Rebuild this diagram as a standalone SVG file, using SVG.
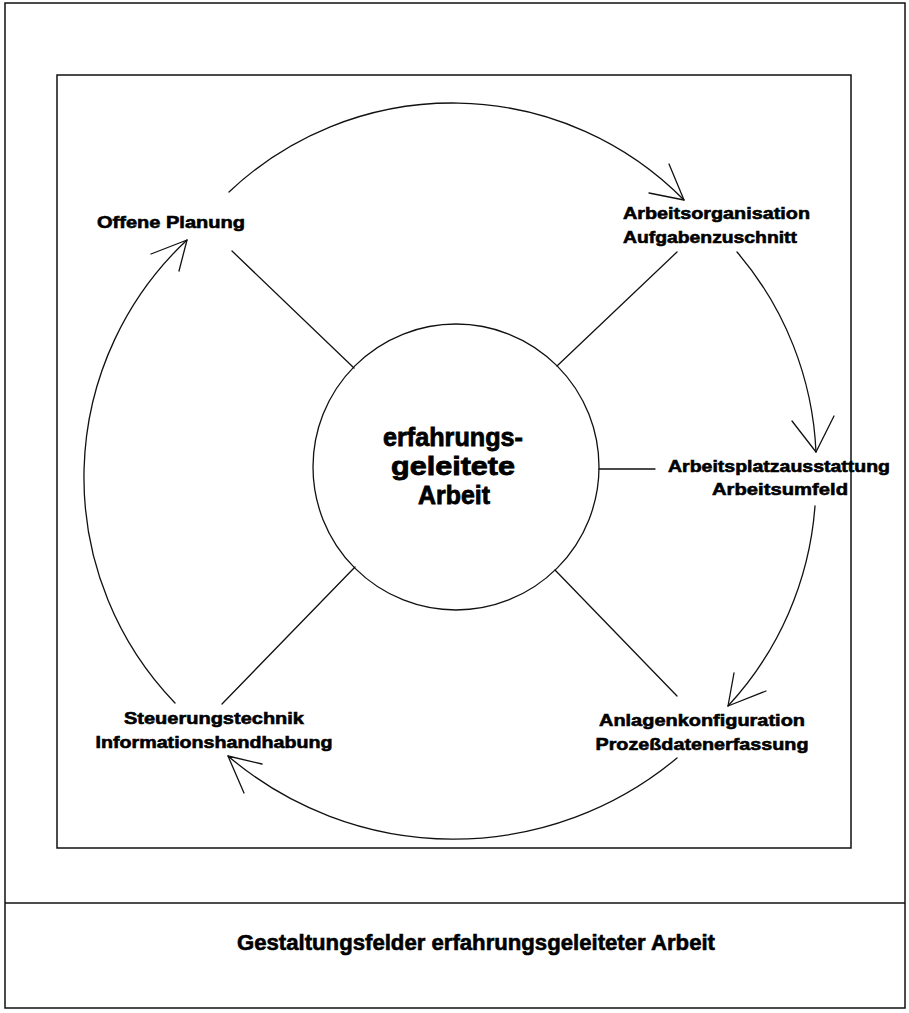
<svg xmlns="http://www.w3.org/2000/svg" width="909" height="1013" viewBox="0 0 909 1013">
  <style>
    .frame { fill: none; stroke: #111; stroke-width: 1.5; }
    .line { fill: none; stroke: #111; stroke-width: 1.3; stroke-linecap: round; stroke-linejoin: round; }
    .lbl { font-family: "Liberation Sans", Arial, Helvetica, sans-serif; font-weight: bold; font-size: 17px; fill: #000; stroke: #000; stroke-width: 0.6; }
    .ctr { font-family: "Liberation Sans", Arial, Helvetica, sans-serif; font-weight: bold; font-size: 26px; fill: #000; stroke: #000; stroke-width: 0.8; text-anchor: middle; }
    .title { font-family: "Liberation Sans", Arial, Helvetica, sans-serif; font-weight: bold; font-size: 22px; fill: #000; stroke: #000; stroke-width: 0.6; text-anchor: middle; }
  </style>
  <rect x="0" y="0" width="909" height="1013" fill="#fff"/>
  <g id="frame">
    <rect class="frame" x="5" y="3" width="900" height="1005"/>
    <line class="frame" x1="5" y1="903" x2="905" y2="903"/>
    <rect class="frame" x="57" y="75" width="794" height="773"/>
  </g>
  <g id="connectors">
    <!-- spokes -->
    <line class="line" x1="232" y1="251" x2="354" y2="368"/>
    <line class="line" x1="677" y1="252" x2="557" y2="366"/>
    <line class="line" x1="599" y1="469" x2="655" y2="469"/>
    <line class="line" x1="555" y1="570" x2="677" y2="696"/>
    <line class="line" x1="355" y1="567" x2="222" y2="704"/>
    <!-- cycle arcs -->
    <path class="line" d="M229,192 A325,325 0 0,1 684,200"/>
    <polyline class="line" points="669,164 684,200 649,193"/>
    <path class="line" d="M737,252 A330,330 0 0,1 816,452"/>
    <polyline class="line" points="792,421 816,452 834,416"/>
    <path class="line" d="M815,506 A330,330 0 0,1 728,706"/>
    <polyline class="line" points="734,673 728,706 766,691"/>
    <path class="line" d="M677,758 A348,348 0 0,1 228,756"/>
    <polyline class="line" points="262,764 228,756 244,793"/>
    <path class="line" d="M175,703 A325,325 0 0,1 187,240"/>
    <polyline class="line" points="151,254 187,240 179,271"/>
  </g>
  <g id="center">
    <circle class="line" cx="456" cy="467" r="143"/>
    <text class="ctr" x="453" y="446" textLength="140" lengthAdjust="spacingAndGlyphs">erfahrungs-</text>
    <text class="ctr" x="453" y="475" textLength="124" lengthAdjust="spacingAndGlyphs">geleitete</text>
    <text class="ctr" x="454" y="504" textLength="72" lengthAdjust="spacingAndGlyphs">Arbeit</text>
  </g>
  <g id="offene-planung">
    <text class="lbl" x="97" y="228" textLength="148" lengthAdjust="spacingAndGlyphs">Offene Planung</text>
  </g>
  <g id="arbeitsorganisation">
    <text class="lbl" x="623" y="219" textLength="187" lengthAdjust="spacingAndGlyphs">Arbeitsorganisation</text>
    <text class="lbl" x="623" y="243" textLength="174" lengthAdjust="spacingAndGlyphs">Aufgabenzuschnitt</text>
  </g>
  <g id="arbeitsplatz">
    <text class="lbl" x="779" y="472" text-anchor="middle" textLength="222" lengthAdjust="spacingAndGlyphs">Arbeitsplatzausstattung</text>
    <text class="lbl" x="780" y="495" text-anchor="middle" textLength="136" lengthAdjust="spacingAndGlyphs">Arbeitsumfeld</text>
  </g>
  <g id="anlagen">
    <text class="lbl" x="702" y="726" text-anchor="middle" textLength="206" lengthAdjust="spacingAndGlyphs">Anlagenkonfiguration</text>
    <text class="lbl" x="702" y="750" text-anchor="middle" textLength="213" lengthAdjust="spacingAndGlyphs">Prozeßdatenerfassung</text>
  </g>
  <g id="steuerung">
    <text class="lbl" x="214" y="724" text-anchor="middle" textLength="180" lengthAdjust="spacingAndGlyphs">Steuerungstechnik</text>
    <text class="lbl" x="214" y="748" text-anchor="middle" textLength="237" lengthAdjust="spacingAndGlyphs">Informationshandhabung</text>
  </g>
  <g id="title">
    <text class="title" x="476" y="950" textLength="478" lengthAdjust="spacingAndGlyphs">Gestaltungsfelder erfahrungsgeleiteter Arbeit</text>
  </g>
</svg>
